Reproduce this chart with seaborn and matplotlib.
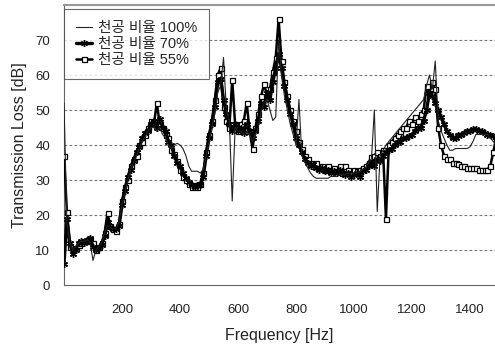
import numpy as np
import pandas as pd
import matplotlib
matplotlib.use("Agg")
import matplotlib.pyplot as plt
import seaborn as sns

freq = list(range(0, 1500, 10))

tl_100 = [52, 18, 12, 10, 11, 12, 12.5, 12.5, 13, 12,
          7, 10, 11, 12, 15, 17, 16.5, 16, 16, 18,
          23, 26, 30, 33, 35, 37, 39, 41, 42.5, 44,
          45, 45, 44, 45, 43, 42, 40, 39, 40, 40.5,
          40, 39, 37, 34, 32.5, 32.5, 32.5, 32, 33, 37,
          41, 45, 49, 55, 57, 65, 50, 47, 24, 45,
          44, 44, 43, 44, 43, 41, 43, 45, 50, 52,
          53, 50, 47, 48, 70, 60, 54, 50, 46, 43,
          40, 53, 37, 35, 33.5, 32, 31, 30.5, 30.5, 30.5,
          30.5, 30.5, 31, 31, 31, 31.5, 31.5, 31.5, 32, 31.5,
          32, 32, 32.5, 33, 33.5, 35, 36, 50, 21, 37,
          38.5, 40, 41, 42, 43, 44, 45, 46, 47, 48,
          49, 50, 51, 52, 53, 57, 60, 56, 64, 47,
          44, 42, 40, 38.5, 38.5, 39, 39, 39, 39, 39,
          39.5, 41, 43, 43, 43, 43, 43, 42, 41, 40]

tl_70 = [6, 19, 12, 9, 10, 12, 12.5, 12, 13, 13.5,
         11, 10, 10.5, 11.5, 14, 18, 16.5, 16, 16, 17,
         23, 27, 31, 33, 35.5, 38, 39.5, 42, 43.5, 44,
         46, 47, 45, 47.5, 45, 44, 41, 40, 37, 35,
         34, 32, 30.5, 29.5, 28.5, 28, 28.5, 28.5, 31, 37,
         42, 46, 51, 58, 59, 53, 49, 46, 44, 46,
         44, 45, 43.5, 46, 44, 42, 44, 47, 52, 51,
         55, 53, 58, 62, 66, 62, 57, 53, 49, 46,
         42, 40, 38, 36, 35, 34, 34.5, 33.5, 33, 33.5,
         32.5, 33, 32, 32.5, 32, 33, 32, 31.5, 32, 31,
         31.5, 32, 31, 32.5, 33, 34, 35, 34, 36, 35.5,
         37, 38, 38.5, 39, 40, 41, 41, 42, 42, 42.5,
         43, 44, 45, 45, 47, 50, 55, 54, 52, 50,
         48, 46, 44, 43, 42, 42, 43, 43, 43.5, 44,
         44, 44.5, 44.5, 44, 44, 43.5, 43, 43, 42.5, 42.5]

tl_55 = [37, 21, 11, 10, 10.5, 11.5, 12, 12.5, 12.5, 13,
         12, 10, 11, 12, 15, 20.5, 17, 16, 15.5, 17.5,
         24, 28, 30, 34, 36, 37, 40, 41, 43, 45,
         47, 46, 52, 46, 45, 43, 42, 38.5, 37.5, 35.5,
         33, 31, 30, 29, 28, 28.5, 28, 29, 32, 38,
         43, 47, 53, 60, 62, 51, 47, 45, 58.5, 46,
         44, 46, 47, 52, 44, 39, 45, 49, 54, 57.5,
         54, 56, 61, 65, 76, 64, 58, 54, 50, 47,
         44, 41, 39, 37, 36, 35, 34, 35, 33.5, 34,
         33, 34, 33, 33.5, 32.5, 34, 32, 34, 33, 32,
         33, 32.5, 33, 33.5, 34, 35, 36.5, 37, 38, 37,
         38.5, 19, 40, 41, 42, 43, 44, 45, 45, 47,
         46, 48, 47, 49, 50, 57, 55, 58, 56, 45,
         40, 37, 36, 36, 35, 35, 34.5, 34, 34, 33.5,
         33.5, 33.5, 33.5, 33, 33, 33, 33, 34, 38, 42]

labels = ["천공 비율 100%", "천공 비율 70%", "천공 비율 55%"]

sns.set_style("white")
plt.rcParams['font.family'] = ['Liberation Sans', 'Noto Sans CJK KR', 'DejaVu Sans']

fig = plt.figure(figsize=(4.95, 3.49), dpi=100)
ax = fig.add_axes([64/495, 1 - 285/349, 1 - 64/495, (285 - 5)/349])

df55 = pd.DataFrame({"f": freq, "v": tl_55})
df70 = pd.DataFrame({"f": freq, "v": tl_70})
df100 = pd.DataFrame({"f": freq, "v": tl_100})

sns.lineplot(data=df55, x="f", y="v", ax=ax, color="black", lw=1.8,
             marker="s", markersize=3.6, markerfacecolor="white",
             markeredgecolor="black", markeredgewidth=0.9, zorder=3)
sns.lineplot(data=df70, x="f", y="v", ax=ax, color="black", lw=2.4,
             marker=(6, 2, 0), markersize=5, markeredgewidth=1.0,
             markeredgecolor="black", zorder=4)
sns.lineplot(data=df100, x="f", y="v", ax=ax, color="#222222", lw=0.8, zorder=5)

ax.set_xlim(0, 1486)
ax.set_ylim(0, 80)
ax.set_xticks(range(100, 1500, 100))
ax.set_xticklabels([str(t) if t % 200 == 0 else "" for t in range(100, 1500, 100)])
ax.set_yticks(range(0, 80, 10))
ax.tick_params(axis='x', direction='in', length=4, color='#555555', labelsize=9.5, pad=14)
ax.tick_params(axis='y', length=0, labelsize=9.5, pad=10)
for t in ax.get_xticklabels() + ax.get_yticklabels():
    t.set_color("#222222")

for y in range(10, 80, 10):
    ax.axhline(y, color="#777777", lw=0.8, ls=(0, (2.5, 2)), zorder=1)

ax.spines['top'].set_color("#999999")
ax.spines['top'].set_linewidth(1.5)
ax.spines['right'].set_visible(False)
ax.spines['left'].set_color("#666666")
ax.spines['bottom'].set_color("#666666")

ax.set_xlabel("Frequency [Hz]", fontsize=11.5, color="#222222", labelpad=8)
ax.set_ylabel("Transmission Loss [dB]", fontsize=11.5, color="#222222", labelpad=6)

h = ax.get_lines()
handles = [h[2], h[1], h[0]]
leg = ax.legend(handles, labels, loc="upper left", bbox_to_anchor=(0.0, 0.985),
                frameon=True, fancybox=False, edgecolor="#444444", fontsize=10.5,
                handlelength=1.15, handletextpad=0.4, borderpad=0.8, labelspacing=0.15,
                borderaxespad=0.0)
leg.get_frame().set_linewidth(0.8)

fig.savefig("out.png", dpi=100)
